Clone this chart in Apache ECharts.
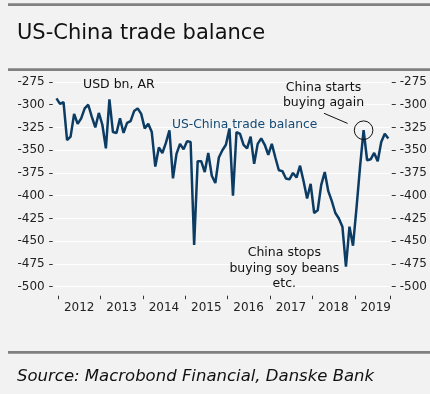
<!DOCTYPE html>
<html>
<head>
<meta charset="utf-8">
<script src="https://cdn.jsdelivr.net/npm/echarts@6/dist/echarts.min.js"></script>
<style>
html,body{margin:0;padding:0;background:#f2f2f2;}
#c{width:430px;height:394px;}
</style>
</head>
<body>
<div id="c"></div>
<script>
// Monthly categories Dec 2011 .. Oct 2019
const startYear = 2011, startMonth = 12, monthCount = 95;
const months = [];
for (let k = 0; k < monthCount; k++) {
  const m0 = startMonth - 1 + k;
  const y = startYear + Math.floor(m0 / 12);
  const m = (m0 % 12) + 1;
  months.push(y + '-' + (m < 10 ? '0' + m : '' + m));
}
// US-China trade balance, USD bn, annualised rate
const balance = [
  -293, -299, -297, -339, -335, -310, -321, -315, -304, -300, -313, -325,
  -309, -322, -348, -294, -330, -331, -315, -331, -320, -318, -307, -304,
  -310, -326, -321, -330, -368, -347, -353, -342, -328, -381, -354, -343,
  -349, -340, -341, -454, -362, -362, -374, -353, -378, -386, -358, -350,
  -344, -326, -400, -330, -332, -344, -348, -335, -365, -343, -337, -344,
  -355, -343, -358, -372, -373, -381, -382, -375, -380, -367, -384, -403,
  -387, -419, -416, -388, -374, -395, -406, -419, -425, -434, -478, -434,
  -455, -413, -368, -328, -361, -360, -353, -362, -341, -332, -337
];
const yTicks = [-500, -475, -450, -425, -400, -375, -350, -325, -300, -275];
const yearLabels = ['2012','2013','2014','2015','2016','2017','2018','2019'];
const peakMonth = '2019-03';

const FONT = 'DejaVu Sans';
const LINE_COLOR = '#0c3c64';
const chart = echarts.init(document.getElementById('c'), null, {renderer: 'canvas'});

function yAxisCfg(pos, offset, tickLen) {
  return {
    type: 'value', position: pos, min: yTicks[0], max: yTicks[yTicks.length - 1], interval: 25,
    offset: offset,
    axisLine: {show: false},
    axisTick: {show: true, length: tickLen, lineStyle: {color: '#333', width: 1}},
    axisLabel: {margin: 8, fontFamily: FONT, fontSize: 12, color: '#222'},
    splitLine: {show: pos === 'left', lineStyle: {color: '#ffffff', width: 1}}
  };
}

const option = {
  backgroundColor: '#f2f2f2',
  animation: false,
  grid: {left: 54.7, right: 39, top: 82, bottom: 107.3, containLabel: false},
  xAxis: {
    type: 'category', data: months, boundaryGap: true, offset: 9,
    axisLine: {show: false},
    axisTick: {show: true, length: 3.5, lineStyle: {color: '#333', width: 1},
      interval: function (i, v) { return v.slice(5) === '01'; }},
    axisLabel: {
      interval: function (i, v) { return v.slice(5) === '07'; },
      formatter: function (v) { const y = v.slice(0, 4); return yearLabels.indexOf(y) >= 0 ? y : ''; },
      margin: 6, fontFamily: FONT, fontSize: 12, color: '#222', padding: [0, 4, 0, 0]
    },
    splitLine: {show: false}
  },
  yAxis: [yAxisCfg('left', 2, 3.5), yAxisCfg('right', 1.7, 4)],
  series: [{
    type: 'line', data: balance, yAxisIndex: 0, symbol: 'none',
    lineStyle: {color: LINE_COLOR, width: 2.5}, z: 5
  }],
  graphic: [
    {type: 'rect', shape: {x: 8, y: 3.3, width: 422, height: 2.7}, style: {fill: '#808080'}},
    {type: 'rect', shape: {x: 8, y: 68.3, width: 422, height: 2.7}, style: {fill: '#808080'}},
    {type: 'rect', shape: {x: 8, y: 351, width: 422, height: 2.7}, style: {fill: '#808080'}},
    {type: 'text', left: 17, top: 23, z: 100, style: {text: 'US-China trade balance', fontFamily: FONT, fontSize: 21, fill: '#111'}},
    {type: 'text', left: 17, top: 368, z: 100, style: {text: 'Source: Macrobond Financial, Danske Bank', fontFamily: FONT, fontStyle: 'italic', fontSize: 16.5, fill: '#111'}},
    {type: 'text', x: 83, y: 85, z: 100, style: {text: 'USD bn, AR', fontFamily: FONT, fontSize: 12.5, fill: '#111', verticalAlign: 'middle'}},
    {type: 'text', x: 172, y: 125, z: 100, style: {text: 'US-China trade balance', fontFamily: FONT, fontSize: 12.3, fill: '#164a74', verticalAlign: 'middle'}},
    {type: 'text', x: 323.5, y: 95.2, z: 100, style: {text: 'China starts\nbuying again', fontFamily: FONT, fontSize: 12.5, lineHeight: 15, fill: '#111', align: 'center', verticalAlign: 'middle'}},
    {type: 'text', x: 284.3, y: 268.3, z: 100, style: {text: 'China stops\nbuying soy beans\netc.', fontFamily: FONT, fontSize: 12.5, lineHeight: 15.3, fill: '#111', align: 'center', verticalAlign: 'middle'}}
  ]
};
chart.setOption(option);

// circle around the peak and leader line, anchored on the data point
const idx = months.indexOf(peakMonth);
const p = chart.convertToPixel({xAxisIndex: 0, yAxisIndex: 0}, [idx, balance[idx]]);
chart.setOption({
  graphic: option.graphic.concat([
    {type: 'circle', z: 100, shape: {cx: p[0], cy: p[1], r: 9.3}, style: {fill: 'none', stroke: '#111', lineWidth: 1}},
    {type: 'line', z: 100, shape: {x1: 324, y1: 113.3, x2: p[0] - 16, y2: p[1] - 6.8}, style: {stroke: '#111', lineWidth: 1}}
  ])
});
</script>
</body>
</html>
